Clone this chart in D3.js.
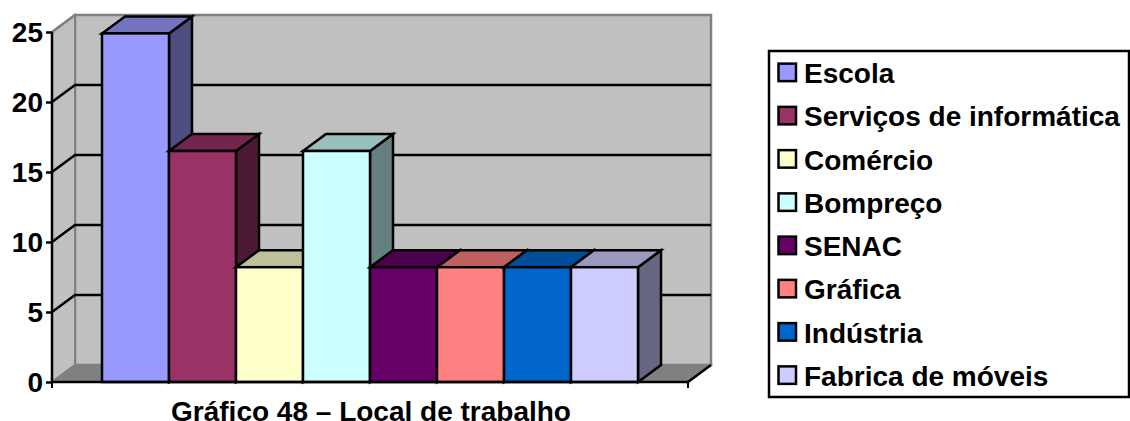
<!DOCTYPE html>
<html>
<head>
<meta charset="utf-8">
<script src="https://cdn.jsdelivr.net/npm/d3@7"></script>
<style>
  html, body { margin: 0; padding: 0; background: #fff; overflow: hidden; }
  text { font-family: "Liberation Sans", Arial, sans-serif; font-weight: bold; fill: #000; }
</style>
</head>
<body>
<div id="chart"></div>
<script>
const categories = ["Escola", "Serviços de informática", "Comércio", "Bompreço", "SENAC", "Gráfica", "Indústria", "Fabrica de móveis"];
const values = [24.9, 16.5, 8.2, 16.5, 8.2, 8.2, 8.2, 8.2];
const colors = ["#9999FF", "#993366", "#FFFFCC", "#CCFFFF", "#660066", "#FF8080", "#0066CC", "#CCCCFF"];
const yTicks = [0, 5, 10, 15, 20, 25];
const chartTitle = "Gráfico 48 – Local de trabalho";

const width = 1130, height = 421;
const margin = { left: 52, right: 688, top: 32, bottom: 382 };
const depth = { x: 23, y: -17 };

const svg = d3.select("#chart").append("svg")
    .attr("width", width)
    .attr("height", height)
    .style("display", "block");

// scales
const x = d3.scaleBand()
    .domain(categories)
    .range([margin.left, margin.right])
    .paddingInner(0)
    .paddingOuter(50 / 67);

const y = d3.scaleLinear()
    .domain([0, 25])
    .range([margin.bottom, margin.top]);

const poly = pts => pts.map(p => p.join(",")).join(" ");
const back = ([px, py]) => [px + depth.x, py + depth.y];

const x0 = margin.left, x1 = margin.right, yb = y(0), yt = y(25);

// walls and floor
svg.append("polygon")
    .attr("points", poly([back([x0, yb]), back([x0, yt]), back([x1, yt]), back([x1, yb])]))
    .attr("fill", "#C0C0C0")
    .attr("stroke", "#808080")
    .attr("stroke-width", 2.5);

svg.append("polygon")
    .attr("points", poly([[x0, yb], [x0, yt], back([x0, yt]), back([x0, yb])]))
    .attr("fill", "#C0C0C0")
    .attr("stroke", "#808080")
    .attr("stroke-width", 2);

svg.append("polygon")
    .attr("points", poly([[x0, yb], back([x0, yb]), back([x1, yb]), [x1, yb]]))
    .attr("fill", "#808080")
    .attr("stroke", "#808080")
    .attr("stroke-width", 1.5);

// grid lines, front edge to back wall
const grid = svg.append("g").attr("fill", "none").attr("stroke", "#000").attr("stroke-width", 2.5);
yTicks.filter(d => d > 0 && d < 25).forEach(d => {
    grid.append("polyline")
        .attr("points", poly([[x0, y(d)], back([x0, y(d)]), back([x1, y(d)])]));
});

// floor edges
svg.append("line")
    .attr("x1", x0).attr("y1", yb)
    .attr("x2", back([x0, yb])[0]).attr("y2", back([x0, yb])[1])
    .attr("stroke", "#808080").attr("stroke-width", 2);
svg.append("line")
    .attr("x1", x1).attr("y1", yb)
    .attr("x2", back([x1, yb])[0]).attr("y2", back([x1, yb])[1])
    .attr("stroke", "#000").attr("stroke-width", 2.5);
svg.append("line")
    .attr("x1", x0).attr("y1", yt)
    .attr("x2", back([x0, yt])[0]).attr("y2", back([x0, yt])[1])
    .attr("stroke", "#808080").attr("stroke-width", 2.5);

// bars, left to right so each one covers the side of the previous
const bars = svg.append("g")
    .selectAll("g")
    .data(categories)
    .join("g")
    .attr("stroke", "#000")
    .attr("stroke-width", 2.5)
    .attr("stroke-linejoin", "miter");

bars.each(function (c, i) {
    const g = d3.select(this);
    const l = x(c), r = x(c) + x.bandwidth(), t = y(values[i]);
    const base = d3.color(colors[i]);
    const shade = k => d3.rgb(base.r * k, base.g * k, base.b * k).formatHex();
    // side
    g.append("polygon")
        .attr("points", poly([[r, yb], [r, t], back([r, t]), back([r, yb])]))
        .attr("fill", shade(0.5));
    // top
    g.append("polygon")
        .attr("points", poly([[l, t], back([l, t]), back([r, t]), [r, t]]))
        .attr("fill", shade(0.75));
    // front
    g.append("rect")
        .attr("x", l)
        .attr("y", t)
        .attr("width", x.bandwidth())
        .attr("height", yb - t)
        .attr("fill", colors[i]);
});

// axes
const yAxis = d3.axisLeft(y).tickValues(yTicks).tickSize(6).tickPadding(3);
const yG = svg.append("g")
    .attr("transform", `translate(${x0},0)`)
    .call(yAxis);
yG.select(".domain").attr("stroke", "#000").attr("stroke-width", 2.5).attr("d", `M0,${yb}V${yt}`);
yG.selectAll(".tick line").attr("stroke", "#000").attr("stroke-width", 2.5);
yG.selectAll("text").style("font-size", "28px").attr("font-family", null).attr("dy", "0.35em");

svg.append("line")
    .attr("x1", x0).attr("x2", x1)
    .attr("y1", yb).attr("y2", yb)
    .attr("stroke", "#000").attr("stroke-width", 2.5);
svg.append("line")
    .attr("x1", x1).attr("x2", x1)
    .attr("y1", yb).attr("y2", yb + 6)
    .attr("stroke", "#000").attr("stroke-width", 2);
svg.append("line")
    .attr("x1", x0).attr("x2", x0)
    .attr("y1", yb).attr("y2", yb + 6)
    .attr("stroke", "#000").attr("stroke-width", 2);

// title sits on the bottom edge of the picture
svg.append("text")
    .attr("x", (x0 + x1) / 2 + 1)
    .attr("y", 420.5)
    .attr("text-anchor", "middle")
    .style("font-size", "28px")
    .text(chartTitle);

// legend
const legendBox = { x: 769, y: 51, w: 360, h: 346 };
svg.append("rect")
    .attr("x", legendBox.x).attr("y", legendBox.y)
    .attr("width", legendBox.w).attr("height", legendBox.h)
    .attr("fill", "#fff")
    .attr("stroke", "#000")
    .attr("stroke-width", 2.5);

const legendY = d3.scaleBand()
    .domain(categories)
    .range([legendBox.y, legendBox.y + legendBox.h]);

const legend = svg.append("g")
    .selectAll("g")
    .data(categories)
    .join("g")
    .attr("transform", d => `translate(${legendBox.x + 9.5},${legendY(d) + legendY.bandwidth() / 2})`);

legend.append("rect")
    .attr("x", 0).attr("y", -9)
    .attr("width", 17.5).attr("height", 17.5)
    .attr("fill", (d, i) => colors[i])
    .attr("stroke", "#000")
    .attr("stroke-width", 2.5);

legend.append("text")
    .attr("x", 25.5)
    .attr("y", 10.5)
    .style("font-size", "28px")
    .text(d => d);
</script>
</body>
</html>
